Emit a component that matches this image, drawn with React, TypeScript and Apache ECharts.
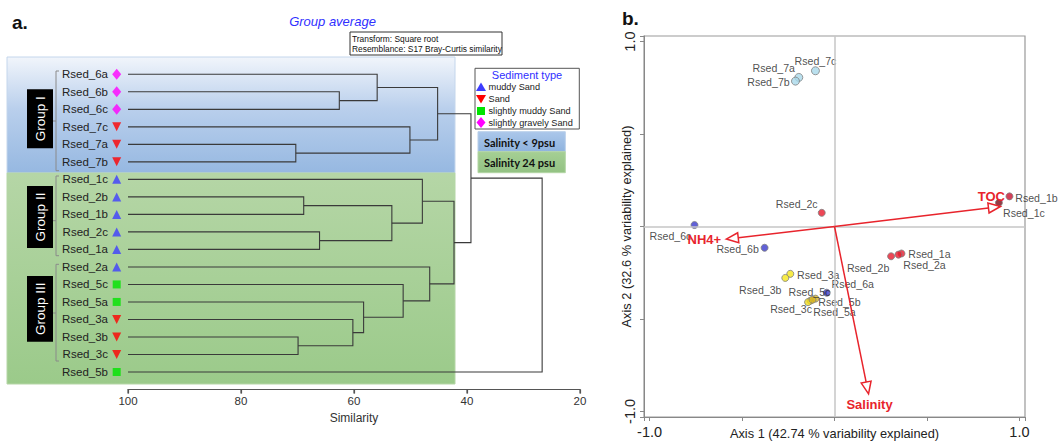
import React, { useEffect, useRef } from 'react';
import * as echarts from 'echarts';

// ---------- Panel a: dendrogram data ----------
const leafNames = ['Rsed_6a', 'Rsed_6b', 'Rsed_6c', 'Rsed_7c', 'Rsed_7a', 'Rsed_7b', 'Rsed_1c', 'Rsed_2b', 'Rsed_1b', 'Rsed_2c', 'Rsed_1a', 'Rsed_2a', 'Rsed_5c', 'Rsed_5a', 'Rsed_3a', 'Rsed_3b', 'Rsed_3c', 'Rsed_5b'];
const leafSediment = ['gravely', 'gravely', 'gravely', 'sand', 'sand', 'sand', 'muddy', 'muddy', 'muddy', 'muddy', 'muddy', 'muddy', 'smuddy', 'smuddy', 'sand', 'sand', 'sand', 'smuddy'];
const mergeLeft = ['Rsed_6b', 'Rsed_6a', 'Rsed_7a', 'Rsed_7c', 'm1', 'Rsed_2b', 'Rsed_2c', 'm5', 'Rsed_1c', 'Rsed_3b', 'Rsed_3a', 'Rsed_5a', 'Rsed_5c', 'Rsed_2a', 'm8', 'm4', 'm15'];
const mergeRight = ['Rsed_6c', 'm0', 'Rsed_7b', 'm2', 'm3', 'Rsed_1b', 'Rsed_1a', 'm6', 'm7', 'Rsed_3c', 'm9', 'm10', 'm11', 'm12', 'm13', 'm14', 'Rsed_5b'];
const mergeSimilarity = [62.6, 55.9, 70.3, 50.1, 45.2, 68.9, 66.1, 53.3, 47.9, 69.9, 60.2, 58.3, 51.3, 46.6, 42.3, 39.3, 26.7];
const similarityTicks = [100, 80, 60, 40, 20];
const sedimentTypes = ['muddy', 'sand', 'smuddy', 'gravely'];
const sedimentLabels = ['muddy Sand', 'Sand', 'slightly muddy Sand', 'slightly gravely Sand'];
const groupLabels = ['Group I', 'Group II', 'Group III'];
const salinityLabels = ['Salinity < 9psu', 'Salinity 24 psu'];

// ---------- Panel b: PCO biplot data ----------
const pcoNames = ['Rsed_7c', 'Rsed_7a', 'Rsed_7b', 'Rsed_2c', 'Rsed_1b', 'Rsed_1c', 'Rsed_6c', 'Rsed_6b', 'Rsed_1a', 'Rsed_2a', 'Rsed_2b', 'Rsed_3a', 'Rsed_3b', 'Rsed_6a', 'Rsed_5c', 'Rsed_5b', 'Rsed_3c', 'Rsed_5a'];
const pcoAxis1 = [-0.103, -0.193, -0.211, -0.069, 0.946, 0.889, -0.757, -0.378, 0.362, 0.346, 0.306, -0.239, -0.266, -0.042, -0.130, -0.103, -0.143, -0.119];
const pcoAxis2 = [0.842, 0.806, 0.786, 0.074, 0.163, 0.128, 0.008, -0.115, -0.146, -0.152, -0.161, -0.256, -0.278, -0.358, -0.401, -0.390, -0.409, -0.396];
const vectorNames = ['TOC', 'NH4+', 'Salinity'];
const vectorAxis1 = [0.897, -0.585, 0.184];
const vectorAxis2 = [0.108, -0.068, -0.905];

// ---------- styles ----------
const FONT = 'Liberation Sans, Arial, sans-serif';
const sedimentStyle: Record<string, { symbol: string; rotate: number; color: string; size: number | number[] }> = {
  muddy: { symbol: 'triangle', rotate: 0, color: '#3d3dff', size: 9 },
  sand: { symbol: 'triangle', rotate: 180, color: '#ff0000', size: 9 },
  smuddy: { symbol: 'rect', rotate: 0, color: '#00e400', size: 8 },
  gravely: { symbol: 'diamond', rotate: 0, color: '#ff00ff', size: [9, 11] },
};
const pointColor: Record<string, string> = {
  Rsed_7c: '#a9d8ea', Rsed_7a: '#a9d8ea', Rsed_7b: '#a9d8ea',
  Rsed_2c: '#e8192c', Rsed_1b: '#c8102e', Rsed_1c: '#7a0a18',
  Rsed_6c: '#3a3acc', Rsed_6b: '#3a3acc', Rsed_6a: '#3a3acc',
  Rsed_1a: '#e8192c', Rsed_2a: '#e8192c', Rsed_2b: '#e8192c',
  Rsed_3a: '#f5e61a', Rsed_3b: '#f5e61a', Rsed_3c: '#f0dc20',
  Rsed_5c: '#d9b820', Rsed_5b: '#d9b820', Rsed_5a: '#d9b820',
};
const labelOffset: Record<string, number[]> = {
  Rsed_7c: [0, -10], Rsed_7a: [-25, -9], Rsed_7b: [-27, 1], Rsed_2c: [-25, -9],
  Rsed_1b: [27, 2], Rsed_1c: [25, 10], Rsed_6c: [-24, 11], Rsed_6b: [-27, 1],
  Rsed_1a: [28, 0], Rsed_2a: [26, 10], Rsed_2b: [-23, 12], Rsed_3a: [28, 1],
  Rsed_3b: [-25, 12], Rsed_6a: [26, -9], Rsed_5c: [-1, -9], Rsed_5b: [24, 3],
  Rsed_3c: [-17, 7], Rsed_5a: [22, 12],
};
const vectorLabelOffset = [[-9, -10], [-22, 0.5], [1, 11]];
const RED = '#e8242c';
const AXIS_GRAY = '#555';

// ---------- dendrogram geometry from merges ----------
function buildDendrogram() {
  const nodeY: Record<string, number> = {};
  const nodeX: Record<string, number> = {};
  leafNames.forEach((l, i) => { nodeY[l] = i; nodeX[l] = 100; });
  return mergeSimilarity.map((s, k) => {
    const a = mergeLeft[k];
    const b = mergeRight[k];
    const ya = nodeY[a];
    const yb = nodeY[b];
    nodeY['m' + k] = (ya + yb) / 2;
    nodeX['m' + k] = s;
    return { coords: [[nodeX[a], ya], [s, ya], [s, yb], [nodeX[b], yb]] };
  });
}

function legendMarker(type: string, cx: number, cy: number): any {
  const st = sedimentStyle[type];
  if (type === 'muddy') return { type: 'polygon', shape: { points: [[cx, cy - 4.5], [cx + 5, cy + 4], [cx - 5, cy + 4]] }, style: { fill: st.color } };
  if (type === 'sand') return { type: 'polygon', shape: { points: [[cx - 5, cy - 4], [cx + 5, cy - 4], [cx, cy + 4.5]] }, style: { fill: st.color } };
  if (type === 'smuddy') return { type: 'rect', shape: { x: cx - 4, y: cy - 4, width: 8, height: 8 }, style: { fill: st.color } };
  return { type: 'polygon', shape: { points: [[cx, cy - 5.5], [cx + 4.5, cy], [cx, cy + 5.5], [cx - 4.5, cy]] }, style: { fill: st.color } };
}

function buildGraphic() {
  const g: any[] = [];
  g.push({
    type: 'rect', z: 0, shape: { x: 7, y: 57, width: 448, height: 116 },
    style: { fill: new echarts.graphic.LinearGradient(0, 0, 0, 1, [{ offset: 0, color: '#f1f5fb' }, { offset: 0.45, color: '#b9cfec' }, { offset: 1, color: '#96b8e1' }]), stroke: '#c4d6ec', lineWidth: 1 },
  });
  g.push({
    type: 'rect', z: 0, shape: { x: 7, y: 173, width: 448, height: 211 },
    style: { fill: new echarts.graphic.LinearGradient(0, 0, 0, 1, [{ offset: 0, color: '#b5d6a6' }, { offset: 1, color: '#9bca8a' }]), stroke: '#b5d6a6', lineWidth: 1 },
  });
  const boxes = [[89.3, 59], [186, 62], [276, 65.7]];
  boxes.forEach(([y, h], i) => {
    g.push({ type: 'rect', z: 1, shape: { x: 27, y, width: 26, height: h }, style: { fill: '#000' } });
    g.push({ type: 'text', z: 2, x: 40, y: y + h / 2, rotation: Math.PI / 2, style: { text: groupLabels[i], fill: '#fff', fontSize: 13.5, fontFamily: FONT, align: 'center', verticalAlign: 'middle' } });
  });
  const brackets = [[71, 170.7, 121], [176, 255.7, 220.7], [264.3, 361, 313]];
  brackets.forEach(([t, b, m]) => {
    g.push({ type: 'polyline', z: 1, shape: { points: [[59, t], [56, t], [56, b], [59, b]] }, style: { stroke: '#8a8a8a', lineWidth: 1, fill: null } });
    g.push({ type: 'line', z: 1, shape: { x1: 53, y1: m, x2: 56, y2: m }, style: { stroke: '#8a8a8a', lineWidth: 1 } });
  });
  g.push({ type: 'text', x: 12, y: 22, style: { text: 'a.', fill: '#111', fontSize: 19, fontWeight: 'bold', fontFamily: FONT, verticalAlign: 'middle' } });
  g.push({ type: 'text', x: 622, y: 18, style: { text: 'b.', fill: '#111', fontSize: 19, fontWeight: 'bold', fontFamily: FONT, verticalAlign: 'middle' } });
  g.push({ type: 'text', x: 332.5, y: 21, style: { text: 'Group average', fill: '#2f2fff', fontSize: 13, fontStyle: 'italic', fontFamily: FONT, align: 'center', verticalAlign: 'middle' } });
  g.push({ type: 'rect', shape: { x: 350, y: 32, width: 152, height: 23 }, style: { fill: '#fff', stroke: '#333', lineWidth: 1 } });
  g.push({ type: 'text', x: 352, y: 38.5, style: { text: 'Transform: Square root', fill: '#111', fontSize: 8.4, fontFamily: FONT, verticalAlign: 'middle' } });
  g.push({ type: 'text', x: 352, y: 49, style: { text: 'Resemblance: S17 Bray-Curtis similarity', fill: '#111', fontSize: 8.4, fontFamily: FONT, verticalAlign: 'middle' } });
  g.push({ type: 'rect', shape: { x: 475, y: 68.3, width: 104.3, height: 60.7 }, style: { fill: '#fff', stroke: '#555', lineWidth: 1 } });
  g.push({ type: 'text', x: 527, y: 74.5, style: { text: 'Sediment type', fill: '#2f2fff', fontSize: 11, fontFamily: FONT, align: 'center', verticalAlign: 'middle' } });
  const ly = [87, 99, 111, 122.5];
  sedimentTypes.forEach((t, i) => {
    g.push(legendMarker(t, 481, ly[i]));
    g.push({ type: 'text', x: 488.5, y: ly[i], style: { text: sedimentLabels[i], fill: '#222', fontSize: 9.2, fontFamily: FONT, verticalAlign: 'middle' } });
  });
  g.push({ type: 'rect', shape: { x: 478, y: 131.7, width: 87.3, height: 20 }, style: { fill: new echarts.graphic.LinearGradient(0, 0, 0, 1, [{ offset: 0, color: '#abc7ea' }, { offset: 1, color: '#8fb3de' }]), stroke: '#b9cfea', lineWidth: 1 } });
  g.push({ type: 'rect', shape: { x: 478, y: 151.7, width: 87.3, height: 21 }, style: { fill: new echarts.graphic.LinearGradient(0, 0, 0, 1, [{ offset: 0, color: '#a5cf94' }, { offset: 1, color: '#93c283' }]), stroke: '#b3d6a4', lineWidth: 1 } });
  g.push({ type: 'text', x: 484, y: 142, style: { text: salinityLabels[0], fill: '#111', fontSize: 11, fontWeight: 'bold', fontFamily: 'Lato, ' + FONT, verticalAlign: 'middle' } });
  g.push({ type: 'text', x: 484, y: 162.5, style: { text: salinityLabels[1], fill: '#111', fontSize: 11, fontWeight: 'bold', fontFamily: 'Lato, ' + FONT, verticalAlign: 'middle' } });
  return g;
}

export default function App() {
  const ref = useRef<HTMLDivElement>(null);
  useEffect(() => {
    document.body.style.margin = '0';
    if (!ref.current) return;
    const chart = echarts.init(ref.current, null, { renderer: 'svg' });
    const isUnit = (v: number) => Math.abs(Math.abs(v) - 1) < 1e-9;
    const option: any = {
      animation: false,
      textStyle: { fontFamily: FONT },
      graphic: buildGraphic(),
      grid: [
        { left: 128, right: 479, top: 56.8, bottom: 51.5, outerBoundsMode: 'none' },
        { left: 644, right: 34, top: 36, bottom: 24, show: true, borderColor: '#999', borderWidth: 1.2, outerBoundsMode: 'none' },
      ],
      xAxis: [
        {
          type: 'value', gridIndex: 0, min: 20, max: 100, interval: 20, inverse: true,
          axisLine: { show: true, onZero: false, lineStyle: { color: AXIS_GRAY, width: 1.2 } },
          axisTick: { show: true, length: 4, lineStyle: { color: AXIS_GRAY, width: 1.2 } },
          splitLine: { show: false },
          axisLabel: { fontSize: 11.5, color: '#333', margin: 5 },
          name: 'Similarity', nameLocation: 'middle', nameGap: 22, nameMoveOverlap: false, nameTextStyle: { fontSize: 12, color: '#333' },
        },
        {
          type: 'value', gridIndex: 1, min: -1.03, max: 1.03, splitNumber: 4,
          axisLine: { show: true, onZero: false, lineStyle: { color: '#888' } },
          axisTick: { show: true, length: 4, lineStyle: { color: '#888' } },
          splitLine: { show: false },
          axisLabel: { fontSize: 14.5, color: '#222', margin: 7, formatter: (v: number) => (isUnit(v) ? v.toFixed(1) : '') },
          name: 'Axis 1 (42.74 % variability explained)', nameLocation: 'middle', nameGap: 10, nameMoveOverlap: false, nameTextStyle: { fontSize: 12.8, color: '#222' },
        },
      ],
      yAxis: [
        {
          type: 'value', gridIndex: 0, min: -1, max: 18, interval: 1, inverse: true,
          axisLine: { show: false, onZero: false }, axisTick: { show: false }, splitLine: { show: false },
          axisLabel: { fontSize: 11.5, color: '#222', margin: 20, formatter: (v: number) => leafNames[Math.round(v)] ?? '' },
        },
        {
          type: 'value', gridIndex: 1, min: -1.03, max: 1.03, splitNumber: 4,
          axisLine: { show: true, onZero: false, lineStyle: { color: '#888' } },
          axisTick: { show: true, length: 4, lineStyle: { color: '#888' } },
          splitLine: { show: false },
          axisLabel: { fontSize: 14.5, color: '#222', margin: 7, rotate: 90, formatter: (v: number) => (isUnit(v) ? v.toFixed(1) : '') },
          name: 'Axis 2 (32.6 % variability explained)', nameLocation: 'middle', nameGap: 11, nameRotate: 90, nameMoveOverlap: false, nameTextStyle: { fontSize: 12.8, color: '#222' },
        },
      ],
      series: [
        {
          type: 'lines', coordinateSystem: 'cartesian2d', xAxisIndex: 0, yAxisIndex: 0, polyline: true, silent: true, clip: false,
          data: buildDendrogram(), lineStyle: { color: '#3a3a3a', width: 1.1, opacity: 1 }, z: 3,
        },
        {
          // similarity axis baseline and ticks, placed through the axis scale
          type: 'custom', xAxisIndex: 0, yAxisIndex: 0, silent: true, clip: false, z: 3,
          data: similarityTicks,
          renderItem: (params: any, api: any) => {
            const p = api.coord([api.value(0), 18]);
            const children: any[] = [
              { type: 'line', shape: { x1: p[0], y1: p[1], x2: p[0], y2: p[1] + 4 }, style: { stroke: AXIS_GRAY, lineWidth: 1.2 } },
            ];
            if (params.dataIndex === 0) {
              const a = api.coord([similarityTicks[0], 18]);
              const b = api.coord([similarityTicks[similarityTicks.length - 1], 18]);
              children.push({ type: 'line', shape: { x1: a[0], y1: a[1], x2: b[0], y2: b[1] }, style: { stroke: AXIS_GRAY, lineWidth: 1.2 } });
            }
            return { type: 'group', children };
          },
        },
        {
          type: 'scatter', xAxisIndex: 0, yAxisIndex: 0, clip: false, symbolOffset: [-11.3, 0], silent: true, z: 3,
          data: leafNames.map((l, i) => {
            const st = sedimentStyle[leafSediment[i]];
            return { value: [100, i], symbol: st.symbol, symbolRotate: st.rotate, symbolSize: st.size, itemStyle: { color: st.color } };
          }),
        },
        {
          type: 'scatter', xAxisIndex: 1, yAxisIndex: 1, silent: true, z: 4,
          data: pcoNames.map((n, i) => ({
            name: n, value: [pcoAxis1[i], pcoAxis2[i]],
            symbolSize: n.startsWith('Rsed_7') ? 8 : 7,
            itemStyle: { color: pointColor[n], borderColor: '#808080', borderWidth: 1 },
            label: { show: true, position: 'inside', offset: labelOffset[n], formatter: n, color: '#222', fontSize: 10.6, fontFamily: FONT },
          })),
          markLine: {
            silent: true, symbol: ['none', 'none'], label: { show: false },
            lineStyle: { color: '#c6c6c6', width: 1.5, type: 'solid' },
            data: [{ xAxis: 0 }, { yAxis: 0 }],
          },
        },
        {
          type: 'custom', xAxisIndex: 1, yAxisIndex: 1, silent: true, z: 5,
          data: vectorNames.map((n, i) => [vectorAxis1[i], vectorAxis2[i]]),
          renderItem: (params: any, api: any) => {
            const o = api.coord([0, 0]);
            const t = api.coord([api.value(0), api.value(1)]);
            const dx = t[0] - o[0];
            const dy = t[1] - o[1];
            const len = Math.hypot(dx, dy);
            const ux = dx / len;
            const uy = dy / len;
            const hl = 12;
            const hw = 5;
            const bx = t[0] - ux * hl;
            const by = t[1] - uy * hl;
            const p1 = [bx - uy * hw, by + ux * hw];
            const p2 = [bx + uy * hw, by - ux * hw];
            const i = params.dataIndex;
            const off = vectorLabelOffset[i];
            return {
              type: 'group',
              children: [
                { type: 'line', shape: { x1: o[0], y1: o[1], x2: bx, y2: by }, style: { stroke: RED, lineWidth: 1.5 } },
                { type: 'polygon', shape: { points: [t, p1, p2] }, style: { fill: '#fff', stroke: RED, lineWidth: 1.5 } },
                { type: 'text', x: t[0] + off[0], y: t[1] + off[1], style: { text: vectorNames[i], fill: RED, fontSize: 13, fontWeight: 'bold', fontFamily: FONT, align: 'center', verticalAlign: 'middle' } },
              ],
            };
          },
        },
      ],
    };
    chart.setOption(option);
    return () => chart.dispose();
  }, []);
  return <div ref={ref} style={{ width: 1059, height: 441 }} />;
}
